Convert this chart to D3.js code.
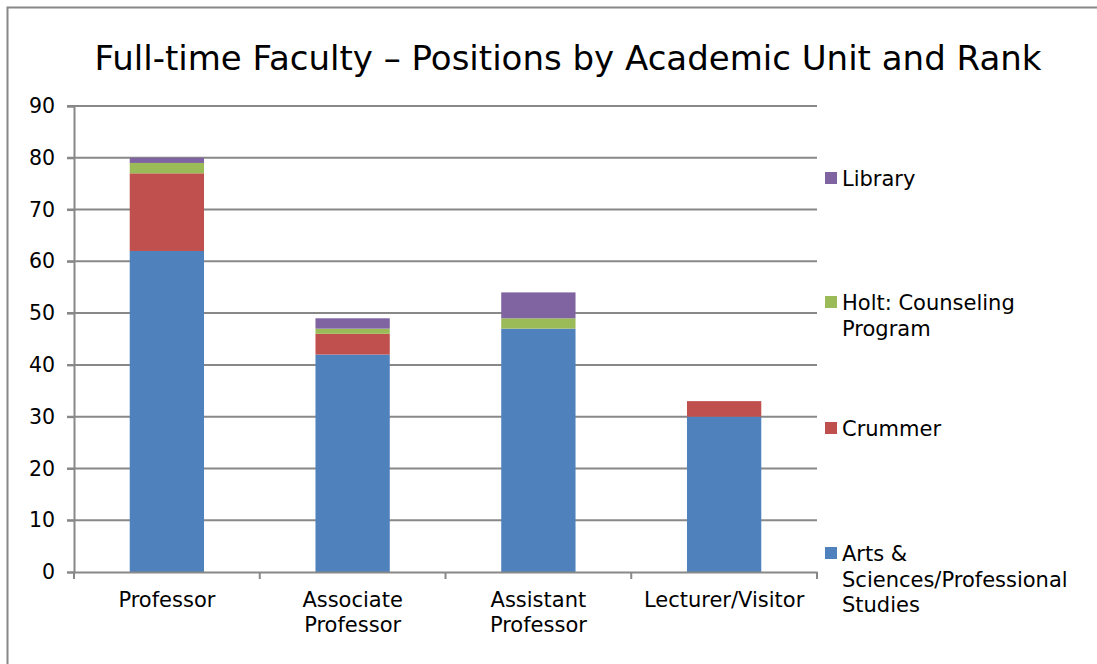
<!DOCTYPE html>
<html><head><meta charset="utf-8">
<script src="https://cdn.jsdelivr.net/npm/d3@7"></script>
<style>html,body{margin:0;padding:0;background:#fff;}svg{display:block;font-family:"DejaVu Sans",sans-serif;}</style>
</head><body>
<svg id="chart" width="1097" height="664"></svg>
<script>
const categories = ["Professor", "Associate Professor", "Assistant Professor", "Lecturer/Visitor"];
const categoryLines = [["Professor"], ["Associate", "Professor"], ["Assistant", "Professor"], ["Lecturer/Visitor"]];
const seriesNames = ["Arts & Sciences/Professional Studies", "Crummer", "Holt: Counseling Program", "Library"];
const artsSciences = [62, 42, 47, 30];
const crummer = [15, 4, 0, 3];
const holt = [2, 1, 2, 0];
const library = [1, 2, 5, 0];
const yTicks = [0, 10, 20, 30, 40, 50, 60, 70, 80, 90];
const legendLines = [["Library"], ["Holt: Counseling", "Program"], ["Crummer"], ["Arts &", "Sciences/Professional", "Studies"]];
const colors = ["#4F81BD", "#C0504D", "#9BBB59", "#8064A2"];

const svg = d3.select("#chart");
svg.append("path").attr("d", "M7.5,664 L7.5,7.5 L1097,7.5").attr("fill", "none").attr("stroke", "#888").attr("stroke-width", 2);

svg.append("text").attr("x", 568).attr("y", 70).attr("text-anchor", "middle")
  .attr("font-size", 34).attr("fill", "#000").text("Full-time Faculty \u2013 Positions by Academic Unit and Rank");

const x = d3.scaleBand().domain(categories).range([74, 817]).paddingInner(0.6).paddingOuter(0.3);
const y = d3.scaleLinear().domain([0, 90]).range([572, 106]);
const xb = d3.scaleBand().domain(categories).range([74, 817]);

svg.append("g").selectAll("line").data(yTicks.filter(d => d > 0)).join("line")
  .attr("x1", 67).attr("x2", 817).attr("y1", d => y(d)).attr("y2", d => y(d))
  .attr("stroke", "#888").attr("stroke-width", 2);

const table = categories.map((c, i) => ({cat: c, s0: artsSciences[i], s1: crummer[i], s2: holt[i], s3: library[i]}));
const stack = d3.stack().keys(["s0", "s1", "s2", "s3"])(table);
svg.append("g").selectAll("g").data(stack).join("g").attr("fill", (d, i) => colors[i])
  .selectAll("rect").data(d => d.filter(p => p[1] - p[0] > 0)).join("rect")
  .attr("x", d => x(d.data.cat)).attr("width", x.bandwidth())
  .attr("y", d => y(d[1])).attr("height", d => y(d[0]) - y(d[1]));

const yAxis = svg.append("g").attr("transform", "translate(74,0)")
  .call(d3.axisLeft(y).tickValues(yTicks).tickSize(7).tickPadding(12));
yAxis.select(".domain").attr("stroke", "#888").attr("stroke-width", 2);
yAxis.selectAll(".tick line").attr("stroke", "#888").attr("stroke-width", 2);
yAxis.selectAll("text").attr("font-size", 20.5).attr("fill", "#000").attr("font-family", "DejaVu Sans");

const xAxis = svg.append("g").attr("transform", "translate(0,572)")
  .call(d3.axisBottom(xb).tickSize(0).tickFormat(""));
xAxis.select(".domain").attr("stroke", "#888").attr("stroke-width", 2);
const bounds = [74, ...categories.map(c => xb(c) + xb.bandwidth())];
svg.append("g").selectAll("line").data(bounds).join("line")
  .attr("x1", d => d).attr("x2", d => d).attr("y1", 572).attr("y2", 579)
  .attr("stroke", "#888").attr("stroke-width", 2);
const xl = svg.append("g").selectAll("text").data(categories).join("text")
  .attr("x", d => xb(d) + xb.bandwidth() / 2).attr("y", 607)
  .attr("text-anchor", "middle").attr("font-size", 21).attr("fill", "#000");
xl.each(function(d, i) {
  const t = d3.select(this);
  categoryLines[i].forEach((ln, j) => t.append("tspan").attr("x", xb(d) + xb.bandwidth() / 2).attr("dy", j ? 25 : 0).text(ln));
});

const legendY = [186, 310, 436, 561];
const legendIdx = [3, 2, 1, 0];
const lg = svg.append("g");
legendIdx.forEach((si, k) => {
  lg.append("rect").attr("x", 825).attr("y", legendY[k] - 14).attr("width", 12).attr("height", 12).attr("fill", colors[si]);
  const t = lg.append("text").attr("x", 842).attr("y", legendY[k]).attr("font-size", 21).attr("fill", "#000");
  legendLines[k].forEach((ln, j) => t.append("tspan").attr("x", 842).attr("dy", j ? 25.5 : 0).text(ln));
});
</script>
</body></html>
